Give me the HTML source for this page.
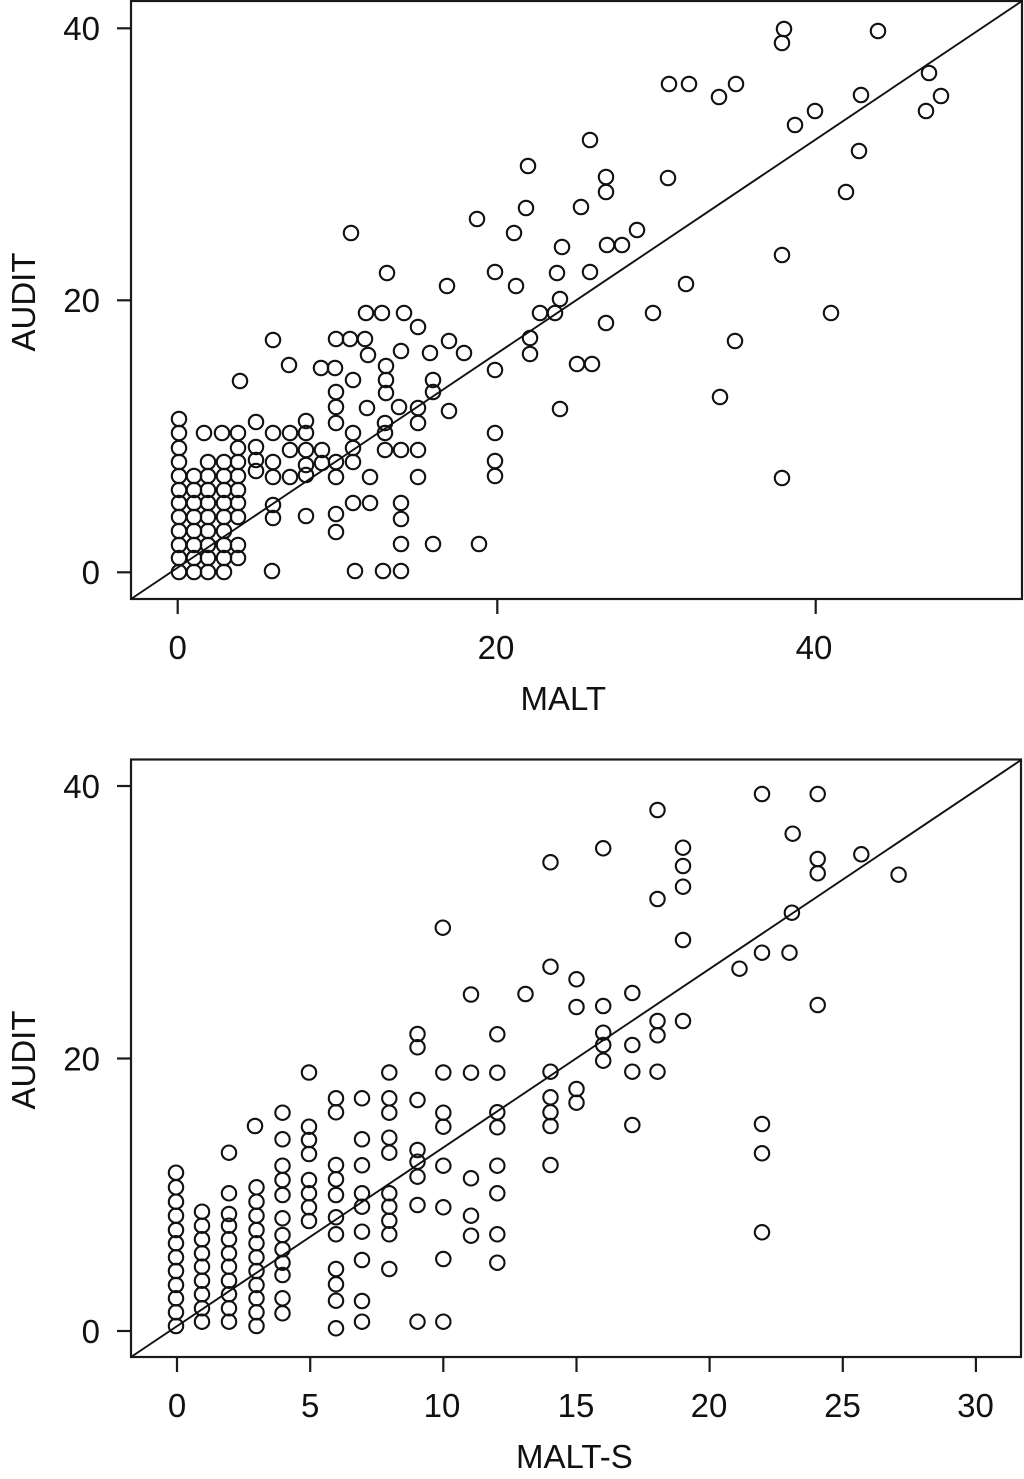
<!DOCTYPE html>
<html><head><meta charset="utf-8"><style>
html,body{margin:0;padding:0;background:#fff;}
svg{display:block;}
text{font-family:"Liberation Sans",Arial,sans-serif;fill:#111;}
.p{fill:none;stroke:#111;stroke-width:2.1;}
.ax{fill:none;stroke:#1a1a1a;stroke-width:2.2;}
.rl{stroke:#111;stroke-width:1.9;}
</style></head><body>
<svg width="1024" height="1479" viewBox="0 0 1024 1479" xmlns="http://www.w3.org/2000/svg">
<defs><style>circle{r:7.2px;}</style></defs>
<rect width="1024" height="1479" fill="#fff"/>
<!-- ===== TOP PLOT ===== -->
<rect class="ax" x="131" y="1" width="891" height="598"/>
<line class="rl" x1="131" y1="599" x2="1022" y2="1"/>
<g class="ax">
<line x1="117" y1="28.3" x2="131" y2="28.3"/><line x1="117" y1="300.3" x2="131" y2="300.3"/><line x1="117" y1="572.3" x2="131" y2="572.3"/>
<line x1="177.7" y1="599" x2="177.7" y2="614"/><line x1="497.3" y1="599" x2="497.3" y2="614"/><line x1="815.7" y1="599" x2="815.7" y2="614"/>
</g>
<g font-size="33" text-anchor="end">
<text x="100" y="40">40</text><text x="100" y="312">20</text><text x="100" y="584">0</text>
</g>
<g font-size="33" text-anchor="middle">
<text x="177.7" y="659">0</text><text x="496" y="659">20</text><text x="814" y="659">40</text>
</g>
<text font-size="33" x="520.5" y="710">MALT</text>
<text font-size="33" text-anchor="middle" transform="translate(35,302) rotate(-90)">AUDIT</text>
<g class="p">
<circle cx="179" cy="419" r="7.2"/><circle cx="179" cy="433" r="7.2"/><circle cx="179" cy="448" r="7.2"/><circle cx="179" cy="462" r="7.2"/><circle cx="179" cy="476" r="7.2"/><circle cx="179" cy="490" r="7.2"/><circle cx="179" cy="503" r="7.2"/><circle cx="179" cy="517" r="7.2"/><circle cx="179" cy="531" r="7.2"/><circle cx="179" cy="545" r="7.2"/><circle cx="179" cy="558" r="7.2"/><circle cx="179" cy="572" r="7.2"/>
<circle cx="194" cy="476" r="7.2"/><circle cx="194" cy="490" r="7.2"/><circle cx="194" cy="503" r="7.2"/><circle cx="194" cy="517" r="7.2"/><circle cx="194" cy="531" r="7.2"/><circle cx="194" cy="545" r="7.2"/><circle cx="194" cy="558" r="7.2"/><circle cx="194" cy="572" r="7.2"/>
<circle cx="208" cy="462" r="7.2"/><circle cx="208" cy="476" r="7.2"/><circle cx="208" cy="490" r="7.2"/><circle cx="208" cy="503" r="7.2"/><circle cx="208" cy="517" r="7.2"/><circle cx="208" cy="531" r="7.2"/><circle cx="208" cy="545" r="7.2"/><circle cx="208" cy="558" r="7.2"/><circle cx="208" cy="572" r="7.2"/>
<circle cx="224" cy="462" r="7.2"/><circle cx="224" cy="476" r="7.2"/><circle cx="224" cy="490" r="7.2"/><circle cx="224" cy="503" r="7.2"/><circle cx="224" cy="517" r="7.2"/><circle cx="224" cy="531" r="7.2"/><circle cx="224" cy="545" r="7.2"/><circle cx="224" cy="558" r="7.2"/><circle cx="224" cy="572" r="7.2"/>
<circle cx="238" cy="433" r="7.2"/><circle cx="238" cy="448" r="7.2"/><circle cx="238" cy="462" r="7.2"/><circle cx="238" cy="476" r="7.2"/><circle cx="238" cy="490" r="7.2"/><circle cx="238" cy="503" r="7.2"/><circle cx="238" cy="517" r="7.2"/><circle cx="238" cy="545" r="7.2"/><circle cx="238" cy="558" r="7.2"/>
<circle cx="204" cy="433" r="7.2"/><circle cx="222" cy="433" r="7.2"/>
<circle cx="336" cy="407" r="7.2"/><circle cx="367" cy="408" r="7.2"/><circle cx="399" cy="407" r="7.2"/><circle cx="418" cy="408" r="7.2"/><circle cx="449" cy="411" r="7.2"/>
<circle cx="256" cy="422" r="7.2"/><circle cx="273" cy="433" r="7.2"/><circle cx="290" cy="433" r="7.2"/><circle cx="306" cy="433" r="7.2"/><circle cx="306" cy="421" r="7.2"/>
<circle cx="256" cy="447" r="7.2"/><circle cx="256" cy="460" r="7.2"/><circle cx="256" cy="471" r="7.2"/>
<circle cx="273" cy="462" r="7.2"/><circle cx="273" cy="477" r="7.2"/>
<circle cx="290" cy="450" r="7.2"/><circle cx="290" cy="477" r="7.2"/>
<circle cx="306" cy="450" r="7.2"/><circle cx="306" cy="465" r="7.2"/><circle cx="306" cy="475" r="7.2"/>
<circle cx="322" cy="450" r="7.2"/><circle cx="322" cy="463" r="7.2"/>
<circle cx="336" cy="423" r="7.2"/><circle cx="336" cy="462" r="7.2"/><circle cx="336" cy="477" r="7.2"/>
<circle cx="353" cy="433" r="7.2"/><circle cx="353" cy="448" r="7.2"/><circle cx="353" cy="462" r="7.2"/>
<circle cx="385" cy="423" r="7.2"/><circle cx="385" cy="433" r="7.2"/><circle cx="385" cy="450" r="7.2"/>
<circle cx="401" cy="450" r="7.2"/><circle cx="418" cy="450" r="7.2"/><circle cx="418" cy="423" r="7.2"/>
<circle cx="370" cy="477" r="7.2"/><circle cx="418" cy="477" r="7.2"/>
<circle cx="273" cy="505" r="7.2"/><circle cx="273" cy="518" r="7.2"/><circle cx="306" cy="516" r="7.2"/>
<circle cx="336" cy="514" r="7.2"/><circle cx="336" cy="532" r="7.2"/>
<circle cx="353" cy="503" r="7.2"/><circle cx="370" cy="503" r="7.2"/>
<circle cx="401" cy="503" r="7.2"/><circle cx="401" cy="519" r="7.2"/><circle cx="401" cy="544" r="7.2"/>
<circle cx="433" cy="544" r="7.2"/>
<circle cx="272" cy="571" r="7.2"/><circle cx="355" cy="571" r="7.2"/><circle cx="383" cy="571" r="7.2"/><circle cx="401" cy="571" r="7.2"/>
<circle cx="351" cy="233" r="7.2"/><circle cx="477" cy="219" r="7.2"/><circle cx="387" cy="273" r="7.2"/><circle cx="447" cy="286" r="7.2"/>
<circle cx="366" cy="313" r="7.2"/><circle cx="382" cy="313" r="7.2"/><circle cx="404" cy="313" r="7.2"/><circle cx="418" cy="327" r="7.2"/>
<circle cx="273" cy="340" r="7.2"/><circle cx="336" cy="339" r="7.2"/><circle cx="350" cy="339" r="7.2"/><circle cx="365" cy="339" r="7.2"/>
<circle cx="368" cy="355" r="7.2"/><circle cx="401" cy="351" r="7.2"/><circle cx="430" cy="353" r="7.2"/><circle cx="449" cy="341" r="7.2"/><circle cx="464" cy="353" r="7.2"/>
<circle cx="289" cy="365" r="7.2"/><circle cx="321" cy="368" r="7.2"/><circle cx="335" cy="368" r="7.2"/><circle cx="353" cy="380" r="7.2"/>
<circle cx="386" cy="366" r="7.2"/><circle cx="386" cy="380" r="7.2"/><circle cx="386" cy="393" r="7.2"/>
<circle cx="240" cy="381" r="7.2"/><circle cx="336" cy="392" r="7.2"/><circle cx="433" cy="380" r="7.2"/><circle cx="433" cy="392" r="7.2"/>
<circle cx="590" cy="140" r="7.2"/><circle cx="528" cy="166" r="7.2"/><circle cx="606" cy="177" r="7.2"/><circle cx="606" cy="192" r="7.2"/><circle cx="668" cy="178" r="7.2"/>
<circle cx="526" cy="208" r="7.2"/><circle cx="581" cy="207" r="7.2"/><circle cx="514" cy="233" r="7.2"/><circle cx="562" cy="247" r="7.2"/>
<circle cx="607" cy="245" r="7.2"/><circle cx="622" cy="245" r="7.2"/><circle cx="637" cy="230" r="7.2"/>
<circle cx="495" cy="272" r="7.2"/><circle cx="557" cy="273" r="7.2"/><circle cx="590" cy="272" r="7.2"/><circle cx="516" cy="286" r="7.2"/><circle cx="686" cy="284" r="7.2"/>
<circle cx="560" cy="299" r="7.2"/><circle cx="540" cy="313" r="7.2"/><circle cx="555" cy="313" r="7.2"/><circle cx="653" cy="313" r="7.2"/><circle cx="606" cy="323" r="7.2"/>
<circle cx="735" cy="341" r="7.2"/><circle cx="530" cy="338" r="7.2"/><circle cx="530" cy="354" r="7.2"/><circle cx="495" cy="370" r="7.2"/>
<circle cx="577" cy="364" r="7.2"/><circle cx="592" cy="364" r="7.2"/><circle cx="720" cy="397" r="7.2"/><circle cx="560" cy="409" r="7.2"/>
<circle cx="784" cy="29" r="7.2"/><circle cx="782" cy="43" r="7.2"/><circle cx="878" cy="31" r="7.2"/>
<circle cx="669" cy="84" r="7.2"/><circle cx="689" cy="84" r="7.2"/><circle cx="719" cy="97" r="7.2"/><circle cx="736" cy="84" r="7.2"/>
<circle cx="929" cy="73" r="7.2"/><circle cx="941" cy="96" r="7.2"/><circle cx="861" cy="95" r="7.2"/><circle cx="926" cy="111" r="7.2"/>
<circle cx="815" cy="111" r="7.2"/><circle cx="795" cy="125" r="7.2"/><circle cx="859" cy="151" r="7.2"/><circle cx="846" cy="192" r="7.2"/>
<circle cx="782" cy="255" r="7.2"/><circle cx="831" cy="313" r="7.2"/>
<circle cx="495" cy="433" r="7.2"/><circle cx="495" cy="461" r="7.2"/><circle cx="495" cy="476" r="7.2"/><circle cx="782" cy="478" r="7.2"/>
<circle cx="479" cy="544" r="7.2"/>
</g>

<!-- ===== BOTTOM PLOT ===== -->
<rect class="ax" x="131" y="759.5" width="890" height="597.5"/>
<line class="rl" x1="131" y1="1357" x2="1021" y2="760"/>
<g class="ax">
<line x1="117" y1="786" x2="131" y2="786"/><line x1="117" y1="1058.5" x2="131" y2="1058.5"/><line x1="117" y1="1331" x2="131" y2="1331"/>
<line x1="177" y1="1357" x2="177" y2="1372"/><line x1="310.2" y1="1357" x2="310.2" y2="1372"/><line x1="443.3" y1="1357" x2="443.3" y2="1372"/>
<line x1="576.5" y1="1357" x2="576.5" y2="1372"/><line x1="709.6" y1="1357" x2="709.6" y2="1372"/><line x1="842.8" y1="1357" x2="842.8" y2="1372"/><line x1="975.9" y1="1357" x2="975.9" y2="1372"/>
</g>
<g font-size="33" text-anchor="end">
<text x="100" y="798">40</text><text x="100" y="1070.5">20</text><text x="100" y="1343">0</text>
</g>
<g font-size="33" text-anchor="middle">
<text x="177" y="1417">0</text><text x="310.2" y="1417">5</text><text x="442" y="1417">10</text><text x="576" y="1417">15</text><text x="709" y="1417">20</text><text x="842.5" y="1417">25</text><text x="975.5" y="1417">30</text>
</g>
<text font-size="33" x="516" y="1468">MALT-S</text>
<text font-size="33" text-anchor="middle" transform="translate(35,1060) rotate(-90)">AUDIT</text>
<g class="p">
<circle cx="176" cy="1172.7" r="7.2"/><circle cx="176" cy="1187.3" r="7.2"/><circle cx="176" cy="1201.7" r="7.2"/><circle cx="176" cy="1215.7" r="7.2"/><circle cx="176" cy="1230" r="7.2"/><circle cx="176" cy="1243.3" r="7.2"/><circle cx="176" cy="1257.3" r="7.2"/><circle cx="176" cy="1271" r="7.2"/><circle cx="176" cy="1285" r="7.2"/><circle cx="176" cy="1298.3" r="7.2"/><circle cx="176" cy="1312.3" r="7.2"/><circle cx="176" cy="1326" r="7.2"/>
<circle cx="202" cy="1211.7" r="7.2"/><circle cx="202" cy="1225.7" r="7.2"/><circle cx="202" cy="1239.3" r="7.2"/><circle cx="202" cy="1253.3" r="7.2"/><circle cx="202" cy="1266.7" r="7.2"/><circle cx="202" cy="1280.7" r="7.2"/><circle cx="202" cy="1294.3" r="7.2"/><circle cx="202" cy="1308.3" r="7.2"/><circle cx="202" cy="1321.7" r="7.2"/>
<circle cx="229" cy="1152.7" r="7.2"/><circle cx="229" cy="1193.3" r="7.2"/><circle cx="229" cy="1214" r="7.2"/><circle cx="229" cy="1225.7" r="7.2"/><circle cx="229" cy="1239.3" r="7.2"/><circle cx="229" cy="1253.3" r="7.2"/><circle cx="229" cy="1266.7" r="7.2"/><circle cx="229" cy="1280.7" r="7.2"/><circle cx="229" cy="1294.3" r="7.2"/><circle cx="229" cy="1308.3" r="7.2"/><circle cx="229" cy="1321.7" r="7.2"/>
<circle cx="255" cy="1126" r="7.2"/><circle cx="256.5" cy="1187.3" r="7.2"/><circle cx="256.5" cy="1201.7" r="7.2"/><circle cx="256.5" cy="1215.7" r="7.2"/><circle cx="256.5" cy="1230" r="7.2"/><circle cx="256.5" cy="1243.3" r="7.2"/><circle cx="256.5" cy="1257.3" r="7.2"/><circle cx="256.5" cy="1271" r="7.2"/><circle cx="256.5" cy="1285" r="7.2"/><circle cx="256.5" cy="1298.3" r="7.2"/><circle cx="256.5" cy="1312.3" r="7.2"/><circle cx="256.5" cy="1326" r="7.2"/>
<circle cx="282.5" cy="1112.7" r="7.2"/><circle cx="282.5" cy="1139.3" r="7.2"/><circle cx="282.5" cy="1165.7" r="7.2"/><circle cx="282.5" cy="1180" r="7.2"/><circle cx="282.5" cy="1195" r="7.2"/><circle cx="282.5" cy="1218.3" r="7.2"/><circle cx="282.5" cy="1235" r="7.2"/><circle cx="282.5" cy="1249.3" r="7.2"/><circle cx="282.5" cy="1262.7" r="7.2"/><circle cx="282.5" cy="1275" r="7.2"/><circle cx="282.5" cy="1298.3" r="7.2"/><circle cx="282.5" cy="1313.3" r="7.2"/>
<circle cx="309" cy="1072.5" r="7.2"/><circle cx="309" cy="1126.7" r="7.2"/><circle cx="309" cy="1140" r="7.2"/><circle cx="309" cy="1154" r="7.2"/><circle cx="309" cy="1180" r="7.2"/><circle cx="309" cy="1193.3" r="7.2"/><circle cx="309" cy="1207.3" r="7.2"/><circle cx="309" cy="1221" r="7.2"/>
<circle cx="336" cy="1098.3" r="7.2"/><circle cx="336" cy="1112.3" r="7.2"/><circle cx="336" cy="1165" r="7.2"/><circle cx="336" cy="1179.3" r="7.2"/><circle cx="336" cy="1195" r="7.2"/><circle cx="336" cy="1217.3" r="7.2"/><circle cx="336" cy="1234.3" r="7.2"/><circle cx="336" cy="1269" r="7.2"/><circle cx="336" cy="1284.3" r="7.2"/><circle cx="336" cy="1300.7" r="7.2"/><circle cx="336" cy="1328.3" r="7.2"/>
<circle cx="362" cy="1098.3" r="7.2"/><circle cx="362" cy="1139.3" r="7.2"/><circle cx="362" cy="1165.3" r="7.2"/><circle cx="362" cy="1193.3" r="7.2"/><circle cx="362" cy="1206.7" r="7.2"/><circle cx="362" cy="1231.7" r="7.2"/><circle cx="362" cy="1260" r="7.2"/><circle cx="362" cy="1301" r="7.2"/><circle cx="362" cy="1321.7" r="7.2"/>
<circle cx="389.3" cy="1072.5" r="7.2"/><circle cx="389.3" cy="1098.3" r="7.2"/><circle cx="389.3" cy="1112.7" r="7.2"/><circle cx="389.3" cy="1137.7" r="7.2"/><circle cx="389.3" cy="1152.7" r="7.2"/><circle cx="389.3" cy="1193.3" r="7.2"/><circle cx="389.3" cy="1206.7" r="7.2"/><circle cx="389.3" cy="1220.7" r="7.2"/><circle cx="389.3" cy="1234.3" r="7.2"/><circle cx="389.3" cy="1269" r="7.2"/>
<circle cx="417.5" cy="1034" r="7.2"/><circle cx="417.5" cy="1047.3" r="7.2"/><circle cx="417.5" cy="1100" r="7.2"/><circle cx="417.5" cy="1150" r="7.2"/><circle cx="417.5" cy="1161.7" r="7.2"/><circle cx="417.5" cy="1176.7" r="7.2"/><circle cx="417.5" cy="1205" r="7.2"/><circle cx="417.5" cy="1321.7" r="7.2"/>
<circle cx="443.3" cy="1072.5" r="7.2"/><circle cx="443.3" cy="1112.7" r="7.2"/><circle cx="443.3" cy="1126.7" r="7.2"/><circle cx="443.3" cy="1165.7" r="7.2"/><circle cx="443.3" cy="1207.3" r="7.2"/><circle cx="443.3" cy="1259" r="7.2"/><circle cx="443.3" cy="1321.7" r="7.2"/>
<circle cx="442.8" cy="927.7" r="7.2"/>
<circle cx="471" cy="994.5" r="7.2"/><circle cx="471" cy="1072.7" r="7.2"/><circle cx="471" cy="1178.3" r="7.2"/><circle cx="471" cy="1215.7" r="7.2"/><circle cx="471" cy="1235.7" r="7.2"/>
<circle cx="497.3" cy="1034.3" r="7.2"/><circle cx="497.3" cy="1072.7" r="7.2"/><circle cx="497.3" cy="1112.3" r="7.2"/><circle cx="497.3" cy="1127.3" r="7.2"/><circle cx="497.3" cy="1165.7" r="7.2"/><circle cx="497.3" cy="1193.3" r="7.2"/><circle cx="497.3" cy="1234.3" r="7.2"/><circle cx="497.3" cy="1262.7" r="7.2"/>
<circle cx="525.5" cy="994" r="7.2"/>
<circle cx="550.5" cy="862.3" r="7.2"/><circle cx="550.5" cy="966.7" r="7.2"/><circle cx="550.5" cy="1071.7" r="7.2"/><circle cx="550.5" cy="1097.3" r="7.2"/><circle cx="550.5" cy="1112.3" r="7.2"/><circle cx="550.5" cy="1126" r="7.2"/><circle cx="550.5" cy="1165" r="7.2"/>
<circle cx="576.5" cy="979.3" r="7.2"/><circle cx="576.5" cy="1007" r="7.2"/><circle cx="576.5" cy="1089" r="7.2"/><circle cx="576.5" cy="1102.7" r="7.2"/>
<circle cx="603.2" cy="848.3" r="7.2"/><circle cx="603.2" cy="1006" r="7.2"/><circle cx="603.2" cy="1032.7" r="7.2"/><circle cx="603.2" cy="1045" r="7.2"/><circle cx="603.2" cy="1060.7" r="7.2"/>
<circle cx="632.3" cy="993" r="7.2"/><circle cx="632.3" cy="1045" r="7.2"/><circle cx="632.3" cy="1071.7" r="7.2"/><circle cx="632.3" cy="1125" r="7.2"/>
<circle cx="657.5" cy="810" r="7.2"/><circle cx="657.5" cy="899" r="7.2"/><circle cx="657.5" cy="1021" r="7.2"/><circle cx="657.5" cy="1035.3" r="7.2"/><circle cx="657.5" cy="1071.7" r="7.2"/>
<circle cx="683" cy="847.7" r="7.2"/><circle cx="683" cy="866" r="7.2"/><circle cx="683" cy="886.7" r="7.2"/><circle cx="683" cy="940" r="7.2"/><circle cx="683" cy="1021" r="7.2"/>
<circle cx="739.5" cy="968.7" r="7.2"/>
<circle cx="762" cy="794" r="7.2"/><circle cx="762" cy="952.7" r="7.2"/><circle cx="762" cy="1124" r="7.2"/><circle cx="762" cy="1153.3" r="7.2"/><circle cx="762" cy="1232.3" r="7.2"/>
<circle cx="792.7" cy="833.7" r="7.2"/><circle cx="791.9" cy="912.7" r="7.2"/><circle cx="789.5" cy="952.7" r="7.2"/>
<circle cx="817.7" cy="794" r="7.2"/><circle cx="817.7" cy="859" r="7.2"/><circle cx="817.7" cy="873.3" r="7.2"/><circle cx="817.7" cy="1005" r="7.2"/>
<circle cx="861.3" cy="854.3" r="7.2"/><circle cx="898.6" cy="874.7" r="7.2"/>
</g>
</svg>
</body></html>
